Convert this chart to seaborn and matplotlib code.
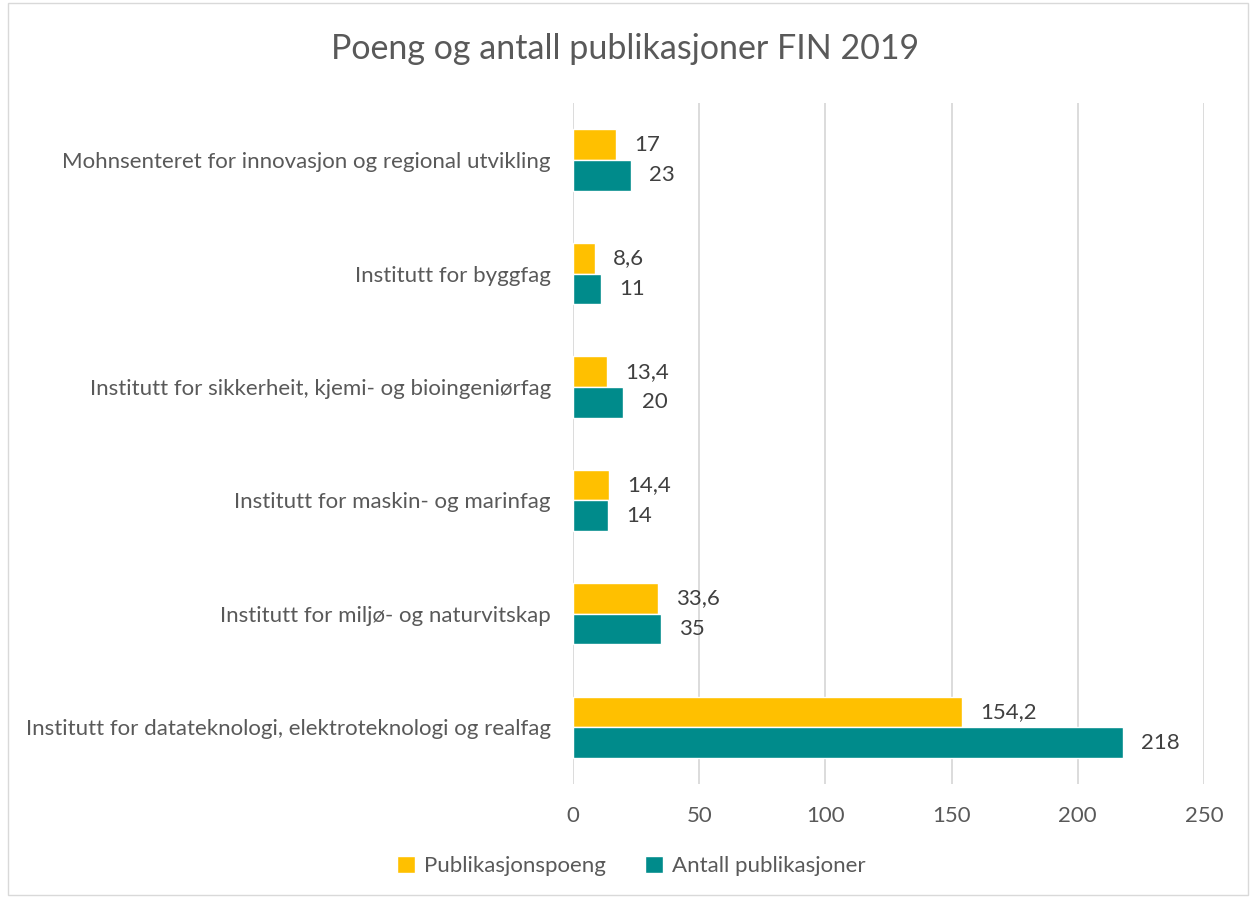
import matplotlib
matplotlib.use('Agg')
import matplotlib.pyplot as plt
import seaborn as sns
import pandas as pd
from matplotlib.patches import Rectangle

institutter = [
    'Mohnsenteret for innovasjon og regional utvikling',
    'Institutt for byggfag',
    'Institutt for sikkerheit, kjemi- og bioingeniørfag',
    'Institutt for maskin- og marinfag',
    'Institutt for miljø- og naturvitskap',
    'Institutt for datateknologi, elektroteknologi og realfag',
]
poeng = [17, 8.6, 13.4, 14.4, 33.6, 154.2]
antall = [23, 11, 20, 14, 35, 218]
serier = ['Publikasjonspoeng', 'Antall publikasjoner']
farger = ['#FFC000', '#008B8B']
x_ticks = [0, 50, 100, 150, 200, 250]

df = pd.DataFrame({
    'Institutt': institutter * 2,
    'Verdi': poeng + antall,
    'Serie': [serier[0]] * len(poeng) + [serier[1]] * len(antall),
})

sns.set_style('white')
plt.rcParams['font.family'] = ['Lato', 'DejaVu Sans']
tekst = '#595959'

fig = plt.figure(figsize=(12.5, 8.99), dpi=100)
ax = fig.add_axes([0.4584, 0.128, 0.5048, 0.757])

sns.barplot(data=df, y='Institutt', x='Verdi', hue='Serie', order=institutter,
            hue_order=serier, palette=farger, orient='h', width=0.54,
            saturation=1, ax=ax, legend=True)

def fmt(v):
    s = f'{v:.1f}'.rstrip('0').rstrip('.')
    return s.replace('.', ',')

for cont in ax.containers:
    ax.bar_label(cont, labels=[fmt(b.get_width()) for b in cont], padding=13,
                 fontsize=16, color='#404040')

ax.set_xlim(0, 250)
ax.set_xticks(x_ticks)
ax.set_xticklabels([str(t) for t in x_ticks], fontsize=16, color=tekst)
ax.tick_params(axis='y', labelsize=16, labelcolor=tekst, length=0, pad=16)
ax.tick_params(axis='x', length=0, pad=16)
ax.set_xlabel('')
ax.set_ylabel('')
ax.xaxis.grid(True, color='#D9D9D9', linewidth=1.3)
ax.set_axisbelow(True)
for s in ax.spines.values():
    s.set_visible(False)

handles, labels = ax.get_legend_handles_labels()
ax.get_legend().remove()
fig.legend(handles, labels, loc='center', bbox_to_anchor=(0.505, 0.037),
           ncol=2, frameon=False, fontsize=16, labelcolor=tekst,
           handlelength=0.8, handleheight=0.8, columnspacing=1.8, handletextpad=0.4)

fig.suptitle('Poeng og antall publikasjoner FIN 2019', fontsize=24.5, color=tekst, y=0.963)
fig.patches.append(Rectangle((0.006, 0.004), 0.992, 0.993, transform=fig.transFigure,
                             fill=False, edgecolor='#D9D9D9', linewidth=1))

fig.savefig('out.png', dpi=100)
